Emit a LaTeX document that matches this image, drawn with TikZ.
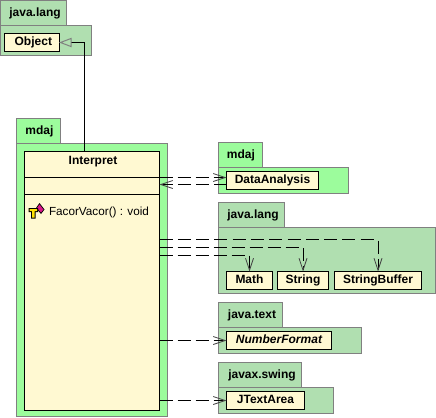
\documentclass[tikz,border=0pt]{standalone}
\usepackage{fontspec}
\setmainfont{Liberation Sans}
\usetikzlibrary{arrows.meta,calc}
\definecolor{pkgA}{HTML}{B0DFB0}
\definecolor{pkgB}{HTML}{9CFC9C}
\definecolor{pkgEdge}{HTML}{808080}
\definecolor{clsFill}{HTML}{FFF9D2}
\definecolor{tipC}{HTML}{444444}
\tikzset{
  x=0.75pt,y=-0.75pt,
  every node/.style={outer sep=0pt},
  pkg/.style={draw=pkgEdge,line width=0.75pt,inner sep=0pt,anchor=north west},
  pkgtxt/.style={font=\fontsize{9pt}{10pt}\selectfont\bfseries,inner sep=0pt,text=black},
  cls/.style={draw=black,fill=clsFill,line width=0.75pt,inner sep=0pt,font=\fontsize{9pt}{10pt}\selectfont\bfseries,text height=6.5pt,text depth=1.5pt},
  rule/.style={draw=black,line width=0.75pt},
  inherit/.style={draw=black,line width=0.75pt,-{Triangle[open,length=9.5pt,width=7pt,color=pkgEdge]}},
  dep/.style={draw=black,line width=0.75pt,dash pattern=on 9.75pt off 3.75pt,-{Straight Barb[length=9pt,width=6pt,color=tipC,line width=0.6pt]}},
  deplong/.style={dep,dash pattern=on 9.75pt off 3.97pt},
}
\newcommand{\pkgbox}[6]{% name fill x0 x1 top bottom
  \node[pkg,fill=#2,minimum width={(#4-#3)*0.75pt},minimum height={(#6-#5)*0.75pt}] (#1) at (#3,#5) {};
}
\begin{document}
\begin{tikzpicture}
\useasboundingbox (0,0) rectangle (436,418);
% java.lang top
\pkgbox{patab}{pkgA}{0.5}{66.5}{0.5}{25.5}
\pkgbox{pabody}{pkgA}{0.5}{91.5}{25.5}{55.5}
\node[pkgtxt] (patxt) at (35,13.5) {java.lang};
\node[cls,minimum width=41.25pt,minimum height=13.5pt,text width=30.75pt,align=right] (object) at (31.5,42.5) {Object};
% mdaj main
\pkgbox{pbtab}{pkgB}{16.5}{60.5}{118.5}{143.5}
\pkgbox{pbbody}{pkgB}{16.5}{167.5}{143.5}{416.5}
\node[pkgtxt] (pbtxt) at (39.5,131.5) {mdaj};
\node[cls,minimum width=101.25pt,minimum height=194.25pt,anchor=north west] (interp) at (24.5,151.5) {};
\node[font=\fontsize{9pt}{10pt}\selectfont\bfseries,inner sep=0pt] (interpname) at (93,161.5) {Interpret};
\coordinate (r1) at (interp.west |- 0,177.5);
\coordinate (r2) at (interp.west |- 0,194.5);
\draw[rule] (r1) -- (r1 -| interp.east);
\draw[rule] (r2) -- (r2 -| interp.east);
% method icon
\fill[black] (36,208) -- (39.5,203) -- (44.5,209.5) -- (41,214) -- cycle;
\fill[magenta!90!black] (37,208) -- (39.5,204.5) -- (43.5,209.5) -- (41,212.5) -- cycle;
\fill[black] (28.5,208) -- (38,208) -- (38,212) -- (35.5,212) -- (35.5,218.5) -- (31,218.5) -- (31,212) -- (28.5,212) -- cycle;
\fill[yellow!85!orange] (29.5,209) -- (37,209) -- (37,211) -- (34.5,211) -- (34.5,217.5) -- (32,217.5) -- (32,211) -- (29.5,211) -- cycle;
\node[font=\fontsize{8.8pt}{10pt}\selectfont,inner sep=0pt,anchor=west] (method) at (49,212.5) {FacorVacor() : void};
% mdaj right
\pkgbox{pctab}{pkgB}{218.5}{262.5}{142.5}{167.5}
\pkgbox{pcbody}{pkgB}{218.5}{348.5}{167.5}{193.5}
\node[pkgtxt] (pctxt) at (241,155.5) {mdaj};
\node[cls,minimum width=69pt,minimum height=13.5pt,anchor=north west] (da) at (226.5,171.5) {DataAnalysis};
% java.lang right
\pkgbox{pdtab}{pkgA}{218.5}{284.5}{202.5}{227.5}
\pkgbox{pdbody}{pkgA}{218.5}{435.5}{227.5}{293.5}
\node[pkgtxt] (pdtxt) at (253,215.5) {java.lang};
\node[cls,minimum width=34.5pt,minimum height=13.5pt,anchor=north west] (math) at (226.5,271.5) {Math};
\node[cls,minimum width=38.25pt,minimum height=13.5pt,anchor=north west] (string) at (277.5,271.5) {String};
\node[cls,minimum width=65.25pt,minimum height=13.5pt,anchor=north west] (sbuf) at (334.5,271.5) {StringBuffer};
% java.text
\pkgbox{petab}{pkgA}{218.5}{282.5}{302.5}{327.5}
\pkgbox{pebody}{pkgA}{218.5}{361.5}{327.5}{353.5}
\node[pkgtxt] (petxt) at (252,315.5) {java.text};
\node[cls,font=\fontsize{9pt}{10pt}\selectfont\bfseries\itshape,minimum width=78.75pt,minimum height=13.5pt,anchor=north west] (nf) at (226.5,331.5) {NumberFormat};
% javax.swing
\pkgbox{pftab}{pkgA}{218.5}{301.5}{362.5}{387.5}
\pkgbox{pfbody}{pkgA}{218.5}{333.5}{387.5}{413.5}
\node[pkgtxt] (pftxt) at (262,375.5) {javax.swing};
\node[cls,minimum width=58.5pt,minimum height=13.5pt,anchor=north west] (jta) at (226.5,391.5) {JTextArea};
% connectors
\coordinate (bend) at (84.5,42.5);
\draw[inherit] (interp.north -| bend) -- (bend) -- (object.east);
\draw[dep] (r1 -| interp.east) -- (r1 -| da.west);
\coordinate (dy) at (0,184.5);
\draw[dep] (da.west |- dy) -- (interp.east |- dy);
\coordinate (l1) at (0,239.5);
\coordinate (l2) at (0,247.5);
\coordinate (l3) at (0,255.5);
\draw[deplong] (interp.east |- l1) -- (sbuf.north |- l1) -- (sbuf.north);
\draw[dep] (interp.east |- l2) -- (string.north |- l2) -- (string.north);
\draw[dep] (interp.east |- l3) -- (math.north |- l3) -- (math.north);
\draw[dep] (interp.east |- nf.west) -- (nf.west);
\draw[dep] (interp.east |- jta.west) -- (jta.west);
\end{tikzpicture}
\end{document}
